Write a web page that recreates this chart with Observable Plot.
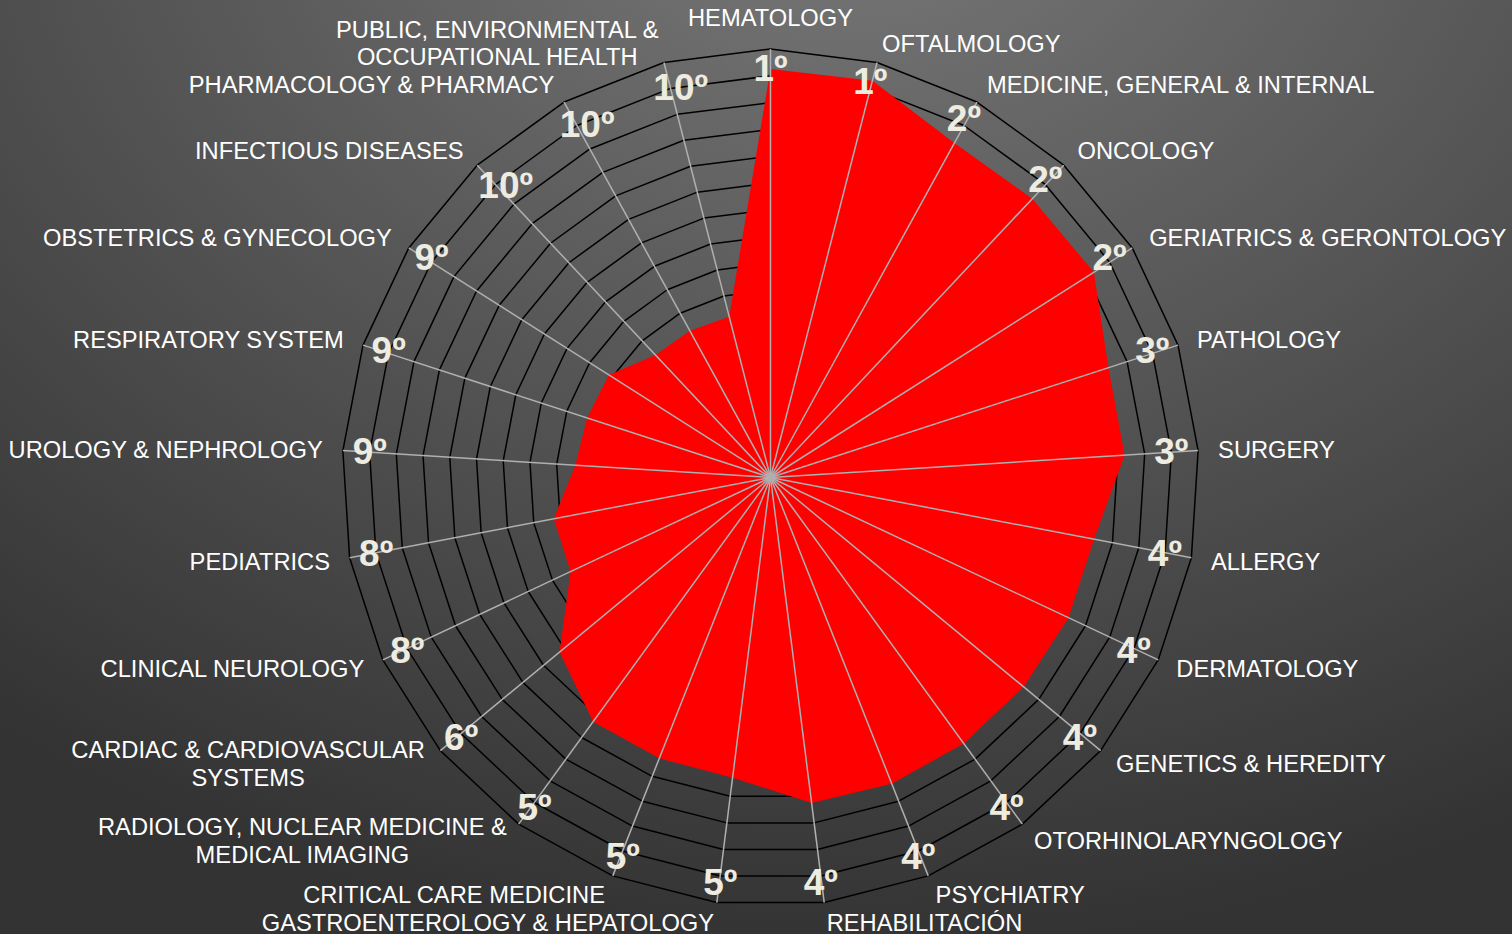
<!DOCTYPE html>
<html>
<head>
<meta charset="utf-8">
<script src="https://cdn.jsdelivr.net/npm/d3@7"></script>
<script src="https://cdn.jsdelivr.net/npm/@observablehq/plot@0.6"></script>
<style>
html, body { margin: 0; padding: 0; width: 1512px; height: 934px; overflow: hidden; }
body { background: radial-gradient(ellipse 1400px 1100px at 850px -150px, #7a7a7a 0%, #333333 100%); }
#chart svg { display: block; }
</style>
</head>
<body>
<div id="chart"></div>
<script>
// ---- data (clockwise from top) ----
const categories = [
  "HEMATOLOGY", "OFTALMOLOGY", "MEDICINE, GENERAL & INTERNAL", "ONCOLOGY",
  "GERIATRICS & GERONTOLOGY", "PATHOLOGY", "SURGERY", "ALLERGY", "DERMATOLOGY",
  "GENETICS & HEREDITY", "OTORHINOLARYNGOLOGY", "PSYCHIATRY", "REHABILITACIÓN",
  "GASTROENTEROLOGY & HEPATOLOGY", "CRITICAL CARE MEDICINE",
  "RADIOLOGY, NUCLEAR MEDICINE &\nMEDICAL IMAGING", "CARDIAC & CARDIOVASCULAR\nSYSTEMS",
  "CLINICAL NEUROLOGY", "PEDIATRICS", "UROLOGY & NEPHROLOGY", "RESPIRATORY SYSTEM",
  "OBSTETRICS & GYNECOLOGY", "INFECTIOUS DISEASES", "PHARMACOLOGY & PHARMACY",
  "PUBLIC, ENVIRONMENTAL &\nOCCUPATIONAL HEALTH"
];
const rankLabels = [
  "1º", "1º", "2º", "2º", "2º", "3º", "3º", "4º", "4º", "4º", "4º", "4º", "4º",
  "5º", "5º", "5º", "6º", "8º", "8º", "9º", "9º", "9º", "10º", "10º", "10º"
];
const values = [
  15.25, 15.3, 14.25, 14.28, 14.3, 13.27, 13.25, 12.3, 12.3, 12.27, 12.28, 12.3, 12.25,
  11.3, 11.28, 11.27, 10.22, 8.25, 8.24, 7.3, 7.2, 7.15, 6.27, 6.25, 6.2
];
const ringLevels = d3.range(1, 17);

// ---- layout ----
const W = 1512, H = 934, CX = 770, CY = 477, K = 26.78; // px per unit
const N = categories.length;
const maxR = d3.max(ringLevels);
const ang = i => (i % N) * 2 * Math.PI / N;
const polar = (r, i) => ({x: r * Math.sin(ang(i)), y: r * Math.cos(ang(i))});

const rings = ringLevels.flatMap(lv => d3.range(N + 1).map(i => ({lv, ...polar(lv, i)})));
const shape = values.map((v, i) => ({name: categories[i], ...polar(v, i)}));
const spokes = categories.map((c, i) => polar(maxR, i));

// rank labels: just inside the outer ring on each spoke (pixel offsets, screen y down)
const ranks = rankLabels.map((t, i) => {
  const s = Math.sin(ang(i)), c = Math.cos(ang(i));
  const wide = t.length > 2;
  let dx = -s * 27 - (wide ? Math.sign(s) * 10 : 0);
  let dy = c * 20 + (wide ? 6 : 0);
  const p = polar(maxR, i);
  return {t, x: p.x + dx / K, y: p.y - dy / K};
});

// category labels: outside the outer ring
const FONT = "'Liberation Sans', Arial, sans-serif";
const FS = 23.7;
const ctx = document.createElement("canvas").getContext("2d");
ctx.font = `${FS}px ${FONT}`;
const cats = categories.map((t, i) => {
  const a = ang(i);
  const p = polar(maxR + 20 / K, i);
  const lines = t.split("\n");
  const w = Math.max(...lines.map(l => ctx.measureText(l).width));
  const h = lines.length * FS * 1.15;
  const s = Math.sin(a);
  let x = p.x, y = p.y;
  if (s > 0.05) x += (w / 2) / K;
  else if (s < -0.05) x -= (w / 2) / K;
  else y += Math.sign(Math.cos(a)) * (h / 2 - 2) / K;
  return {t, x, y};
});

const chart = Plot.plot({
  width: W, height: H, margin: 0,
  x: {domain: [-CX / K, (W - CX) / K], axis: null},
  y: {domain: [-(H - CY) / K, CY / K], axis: null},
  style: {background: "transparent", overflow: "visible"},
  marks: [
    Plot.line(rings, {x: "x", y: "y", z: "lv", stroke: "#000000", strokeWidth: 1.5}),
    Plot.line(shape, {x: "x", y: "y", fill: "#ff0000", stroke: "none", curve: "linear-closed"}),
    Plot.link(spokes, {x1: 0, y1: 0, x2: "x", y2: "y", stroke: "#b0b0b0", strokeWidth: 1.5}),
    Plot.text(ranks, {x: "x", y: "y", text: "t", fill: "#eeece1", fontSize: 37, fontWeight: "bold",
      fontFamily: FONT, textAnchor: "middle", lineAnchor: "middle"}),
    Plot.text(cats, {x: "x", y: "y", text: "t", fill: "#ffffff", fontSize: FS,
      fontFamily: FONT, textAnchor: "middle", lineAnchor: "middle", lineHeight: 1.15})
  ]
});
document.getElementById("chart").appendChild(chart);
</script>
</body>
</html>
